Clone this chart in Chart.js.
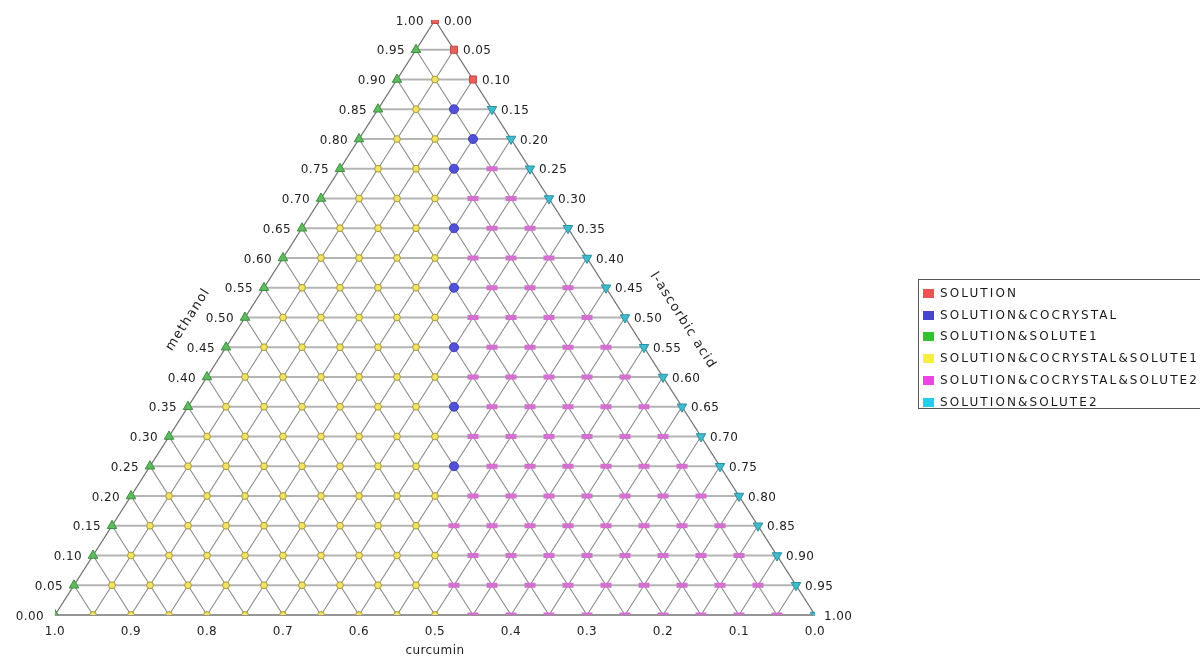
<!DOCTYPE html>
<html>
<head>
<meta charset="utf-8">
<script src="https://cdn.jsdelivr.net/npm/chart.js@4.4.1/dist/chart.umd.min.js"></script>
<style>
  html, body { margin: 0; padding: 0; background: #fff; overflow: hidden; }
  #wrap { position: relative; width: 1200px; height: 659px; }
  #legend {
    position: absolute; left: 918px; top: 279px; width: 300px; height: 130px;
    border: 1.5px solid #555; box-sizing: border-box;
    font-family: "DejaVu Sans", sans-serif; font-size: 12px; letter-spacing: 2.1px; color: #1a1a1a;
  }
  #legend div { position: absolute; left: 4px; height: 14px; line-height: 14px; white-space: nowrap; }
  #legend span { display: inline-block; width: 11px; height: 9px; margin-right: 6px; vertical-align: -1px; }
</style>
</head>
<body>
<div id="wrap">
  <canvas id="ternario" width="1200" height="659"></canvas>
  <div id="legend"></div>
</div>
<script>
// rotulos dos eixos
const methanolTicks = ['1.00','0.95','0.90','0.85','0.80','0.75','0.70','0.65','0.60','0.55','0.50',
                       '0.45','0.40','0.35','0.30','0.25','0.20','0.15','0.10','0.05','0.00'];
const ascorbicTicks = ['0.00','0.05','0.10','0.15','0.20','0.25','0.30','0.35','0.40','0.45','0.50',
                       '0.55','0.60','0.65','0.70','0.75','0.80','0.85','0.90','0.95','1.00'];
const curcuminTicks = ['1.0','0.9','0.8','0.7','0.6','0.5','0.4','0.3','0.2','0.1','0.0'];

// fases (codigo -> nome)
const phaseCodes = ['R','B','G','Y','P','C'];
const phaseNames = ['SOLUTION','SOLUTION&COCRYSTAL','SOLUTION&SOLUTE1',
                    'SOLUTION&COCRYSTAL&SOLUTE1','SOLUTION&COCRYSTAL&SOLUTE2','SOLUTION&SOLUTE2'];
const legendColors = ['#f05252','#4646d2','#33c033','#f5f040','#ee44e6','#22cdee'];

// fase lida em cada no da grade: linha k = metanol 1-0.05k, coluna j = acido ascorbico 0.05j
const phaseRows = [
  'R',
  'GR',
  'GYR',
  'GYBC',
  'GYYBC',
  'GYYBPC',
  'GYYYPPC',
  'GYYYBPPC',
  'GYYYYPPPC',
  'GYYYYBPPPC',
  'GYYYYYPPPPC',
  'GYYYYYBPPPPC',
  'GYYYYYYPPPPPC',
  'GYYYYYYBPPPPPC',
  'GYYYYYYYPPPPPPC',
  'GYYYYYYYBPPPPPPC',
  'GYYYYYYYYPPPPPPPC',
  'GYYYYYYYYPPPPPPPPC',
  'GYYYYYYYYYPPPPPPPPC',
  'GYYYYYYYYYPPPPPPPPPC',
  'GYYYYYYYYYYPPPPPPPPPC'
];

const markerStyles = {
  R: { pointStyle: 'rect', pointRadius: 5, pointBackgroundColor: '#e8625c', pointBorderColor: '#c04848', pointBorderWidth: 1 },
  B: { pointStyle: 'circle', pointRadius: 4.5, pointBackgroundColor: '#5050d8', pointBorderColor: '#4040b8', pointBorderWidth: 1 },
  G: { pointStyle: 'triangle', pointRadius: 5.5, pointBackgroundColor: '#5fbb5f', pointBorderColor: '#3d8f3d', pointBorderWidth: 1 },
  Y: { pointStyle: 'circle', pointRadius: 3.4, pointBackgroundColor: '#f2e46a', pointBorderColor: '#a89a30', pointBorderWidth: 1 },
  P: { pointStyle: 'line', pointRadius: 5.5, pointBorderColor: '#d470d0', pointBorderWidth: 5 },
  C: { pointStyle: 'triangle', pointRotation: 180, pointRadius: 5.5, pointBackgroundColor: '#40bccc', pointBorderColor: '#2a8fa0', pointBorderWidth: 1 }
};

// composicao -> coordenada cartesiana (x = ascorbico + metanol/2, y = metanol)
function toXY(a, m) { return { x: a + 0.5 * m, y: m }; }

const datasets = phaseCodes.map((code, i) => {
  const pts = [];
  phaseRows.forEach((row, k) => {
    for (let j = 0; j < row.length; j++) {
      if (row[j] === code) pts.push(toXY(j * 0.05, 1 - k * 0.05));
    }
  });
  return Object.assign({ label: phaseNames[i], data: pts, clip: 0, pointHoverRadius: 0 }, markerStyles[code]);
});

const gradePlugin = {
  id: 'grade',
  beforeDatasetsDraw(chart) {
    const ctx = chart.ctx;
    const sx = chart.scales.x, sy = chart.scales.y;
    const P = (a, m) => [sx.getPixelForValue(a + 0.5 * m), sy.getPixelForValue(m)];
    const seg = (p, q) => { ctx.beginPath(); ctx.moveTo(p[0], p[1]); ctx.lineTo(q[0], q[1]); ctx.stroke(); };
    ctx.save();
    // linhas horizontais (metanol constante)
    ctx.strokeStyle = '#b4b4b4';
    ctx.lineWidth = 1.8;
    for (let i = 1; i < 20; i++) {
      const v = i / 20;
      seg(P(0, v), P(1 - v, v));
    }
    // diagonais
    ctx.strokeStyle = '#8a8a8a';
    ctx.lineWidth = 1.1;
    for (let i = 1; i < 20; i++) {
      const v = i / 20;
      seg(P(v, 0), P(v, 1 - v));
      seg(P(1 - v, 0), P(0, 1 - v));
    }
    // bordas do triangulo
    ctx.strokeStyle = '#707070';
    ctx.lineWidth = 1.3;
    seg(P(0, 0), P(1, 0));
    seg(P(0, 0), P(0, 1));
    seg(P(1, 0), P(0, 1));
    ctx.restore();
  },
  afterDraw(chart) {
    const ctx = chart.ctx;
    const sx = chart.scales.x, sy = chart.scales.y;
    const P = (a, m) => [sx.getPixelForValue(a + 0.5 * m), sy.getPixelForValue(m)];
    ctx.save();
    ctx.fillStyle = '#222';
    ctx.font = '12px "DejaVu Sans"';
    ctx.letterSpacing = '0.4px';
    ctx.textBaseline = 'middle';
    for (let k = 0; k <= 20; k++) {
      const m = 1 - k * 0.05;
      const l = P(0, m), r = P(1 - m, m);
      ctx.textAlign = 'right';
      ctx.fillText(methanolTicks[k], l[0] - 11, l[1] + 1.5);
      ctx.textAlign = 'left';
      ctx.fillText(ascorbicTicks[k], r[0] + 9, r[1] + 1.5);
    }
    ctx.textAlign = 'center';
    curcuminTicks.forEach((t, i) => {
      const p = P(i * 0.1, 0);
      ctx.fillText(t, p[0], p[1] + 17);
    });
    // titulos
    const b = P(0.5, 0);
    ctx.fillText('curcumin', b[0], b[1] + 36);
    ctx.font = '13px "DejaVu Sans"';
    ctx.letterSpacing = '1.2px';
    const top = P(0, 1), bl = P(0, 0), br = P(1, 0);
    const ml = P(0, 0.5), mr = P(0.5, 0.5);
    ctx.save();
    ctx.translate(ml[0] - 57, ml[1] + 2);
    ctx.rotate(Math.atan2(top[1] - bl[1], top[0] - bl[0]));
    ctx.fillText('methanol', 0, 0);
    ctx.restore();
    ctx.save();
    ctx.translate(mr[0] + 58, mr[1] + 3);
    ctx.rotate(Math.atan2(br[1] - top[1], br[0] - top[0]));
    ctx.fillText('l-ascorbic acid', 0, 0);
    ctx.restore();
    ctx.restore();
  }
};

new Chart(document.getElementById('ternario').getContext('2d'), {
  type: 'scatter',
  data: { datasets },
  options: {
    responsive: false,
    animation: false,
    layout: { padding: { left: 55, right: 385, top: 20, bottom: 44 } },
    scales: {
      x: { type: 'linear', min: 0, max: 1, display: false },
      y: { type: 'linear', min: 0, max: 1, display: false }
    },
    plugins: { legend: { display: false }, tooltip: { enabled: false } }
  },
  plugins: [gradePlugin]
});

// legenda
const leg = document.getElementById('legend');
phaseNames.forEach((n, i) => {
  const d = document.createElement('div');
  d.style.top = (6 + i * 21.7) + 'px';
  d.innerHTML = `<span style="background:${legendColors[i]}"></span>${n.replace(/&/g, '&amp;')}`;
  leg.appendChild(d);
});
</script>
</body>
</html>
